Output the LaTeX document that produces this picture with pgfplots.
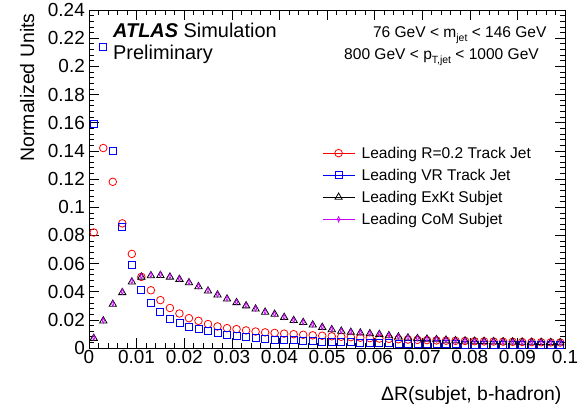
\documentclass[border=0pt]{standalone}
\usepackage{pgfplots}
\pgfplotsset{compat=1.18}
\usepackage{pgfplotstable}
\usepackage{fontspec}
\setmainfont{Liberation Sans}
\definecolor{rootviolet}{RGB}{204,0,255}

\pgfplotstableread{
x r02 vr exkt com
0.001 0.0820 0.1590 0.0069 0.0075
0.003 0.1420 0.2140 0.0193 0.0195
0.005 0.1180 0.1400 0.0311 0.0315
0.007 0.0885 0.0860 0.0394 0.0400
0.009 0.0668 0.0589 0.0469 0.0475
0.011 0.0505 0.0412 0.0504 0.0510
0.013 0.0410 0.0320 0.0514 0.0520
0.015 0.0340 0.0255 0.0516 0.0522
0.017 0.0284 0.0210 0.0504 0.0510
0.019 0.0245 0.0180 0.0488 0.0492
0.021 0.0212 0.0153 0.0464 0.0468
0.023 0.0193 0.0134 0.0436 0.0440
0.025 0.0170 0.0122 0.0405 0.0410
0.027 0.0153 0.0106 0.0377 0.0381
0.029 0.0141 0.0093 0.0348 0.0352
0.031 0.0134 0.0083 0.0323 0.0326
0.033 0.0125 0.0076 0.0300 0.0303
0.035 0.0117 0.0069 0.0277 0.0280
0.037 0.0111 0.0064 0.0255 0.0258
0.039 0.0107 0.0060 0.0240 0.0242
0.041 0.0102 0.0057 0.0218 0.0221
0.043 0.0098 0.0054 0.0196 0.0199
0.045 0.0094 0.0051 0.0182 0.0185
0.047 0.0090 0.0048 0.0164 0.0167
0.049 0.0087 0.0046 0.0147 0.0150
0.051 0.0083 0.0044 0.0131 0.0134
0.053 0.0080 0.0042 0.0120 0.0123
0.055 0.0077 0.0040 0.0112 0.0115
0.057 0.0073 0.0038 0.0107 0.0110
0.059 0.0070 0.0036 0.0102 0.0105
0.061 0.0067 0.0034 0.0097 0.0100
0.063 0.0065 0.0033 0.0088 0.0091
0.065 0.0062 0.0032 0.0079 0.0082
0.067 0.0060 0.0031 0.0072 0.0074
0.069 0.0058 0.0030 0.0067 0.0069
0.071 0.0056 0.0029 0.0063 0.0065
0.073 0.0054 0.0028 0.0060 0.0062
0.075 0.0052 0.0027 0.0056 0.0058
0.077 0.0051 0.0026 0.0052 0.0054
0.079 0.0050 0.0025 0.0050 0.0052
0.081 0.0048 0.0024 0.0048 0.0050
0.083 0.0047 0.0023 0.0047 0.0048
0.085 0.0046 0.0023 0.0045 0.0047
0.087 0.0045 0.0022 0.0044 0.0045
0.089 0.0044 0.0021 0.0043 0.0044
0.091 0.0043 0.0021 0.0042 0.0043
0.093 0.0042 0.0020 0.0041 0.0042
0.095 0.0041 0.0020 0.0040 0.0041
0.097 0.0040 0.0019 0.0039 0.0040
0.099 0.0039 0.0019 0.0038 0.0039
}\data

\begin{document}
\begin{tikzpicture}
\useasboundingbox (-89bp,-66bp) rectangle (497bp,348bp);
\begin{axis}[
  at={(0,0)}, anchor=south west,
  scale only axis, width=476bp, height=338bp,
  xmin=0, xmax=0.1, ymin=0, ymax=0.24,
  clip=false,
  xtick={0,0.01,0.02,0.03,0.04,0.05,0.06,0.07,0.08,0.09,0.1},
  ytick={0,0.02,0.04,0.06,0.08,0.1,0.12,0.14,0.16,0.18,0.2,0.22,0.24},
  minor x tick num=4, minor y tick num=4,
  tick align=inside, xtick pos=both, ytick pos=both,
  major tick length=10bp, minor tick length=5bp,
  tick style={black, line width=0.6bp},
  axis line style={line width=0.8bp},
  scaled ticks=false,
  /pgf/number format/assume math mode=true,
  /pgf/number format/fixed, /pgf/number format/precision=2,
  ticklabel style={font=\fontsize{19}{19}\selectfont},
  xticklabel style={inner sep=0pt, yshift=-2bp},
  yticklabel style={inner sep=0pt, xshift=-4bp},
  xlabel={ΔR(subjet, b-hadron)},
  ylabel={Normalized Units},
  every axis x label/.style={at={(axis description cs:1,0)}, anchor=base east, yshift=-52bp, font=\fontsize{19.5}{19.5}\selectfont},
  every axis y label/.style={at={(axis description cs:-0.1155,1)}, rotate=90, anchor=base east, font=\fontsize{19.5}{19.5}\selectfont},
  legend image code/.code={\draw[mark repeat=2,mark phase=2,#1] plot coordinates {(0bp,0bp)(16bp,0bp)(32bp,0bp)};},
  legend style={draw=none, fill=none, at={(rel axis cs:0.4895,0.596)}, anchor=north west,
    font=\fontsize{15.6}{15.6}\selectfont, inner sep=0pt, row sep=9.3bp, column sep=6.7bp,
    nodes={inner sep=0pt}},
  legend cell align=left,
]
\addplot[forget plot, only marks, red, mark=o, mark size=3.8bp, line width=0.8bp] table[x=x, y=r02] {\data};
\addplot[forget plot, only marks, blue, mark=square, mark size=3.5bp, line width=0.8bp] table[x=x, y=vr] {\data};
\addplot[forget plot, only marks, black, mark=triangle, mark size=4.2bp, line width=0.8bp] table[x=x, y=exkt] {\data};
\addplot[forget plot, only marks, rootviolet, mark=diamond, mark size=2.6bp, mark options={xscale=0.6}, line width=0.8bp] table[x=x, y=com] {\data};

\addlegendimage{red, mark=o, mark size=3.8bp, line width=0.8bp}
\addlegendentry{Leading R=0.2 Track Jet}
\addlegendimage{blue, mark=square, mark size=3.5bp, line width=0.8bp}
\addlegendentry{Leading VR Track Jet}
\addlegendimage{black, mark=triangle, mark size=4.2bp, line width=0.8bp}
\addlegendentry{Leading ExKt Subjet}
\addlegendimage{rootviolet, mark=diamond, mark size=2.6bp, mark options={xscale=0.6}, line width=0.8bp}
\addlegendentry{Leading CoM Subjet}

\node[anchor=base west, inner sep=0pt, font=\fontsize{20}{20}\selectfont] at (axis description cs:0.0504,0.9201) {\textbf{\textit{ATLAS}} Simulation};
\node[anchor=base west, inner sep=0pt, font=\fontsize{20}{20}\selectfont] at (axis description cs:0.0504,0.8550) {Preliminary};
\node[anchor=base east, inner sep=0pt, font=\fontsize{15.6}{15.6}\selectfont] at (axis description cs:0.9616,0.9201) {76 GeV < m\raisebox{-4bp}{\fontsize{10.5}{10.5}\selectfont jet} < 146 GeV};
\node[anchor=base east, inner sep=0pt, font=\fontsize{15.6}{15.6}\selectfont] at (axis description cs:0.9454,0.8550) {800 GeV < p\raisebox{-4bp}{\fontsize{10.5}{10.5}\selectfont T,jet} < 1000 GeV};
\end{axis}
\end{tikzpicture}
\end{document}
